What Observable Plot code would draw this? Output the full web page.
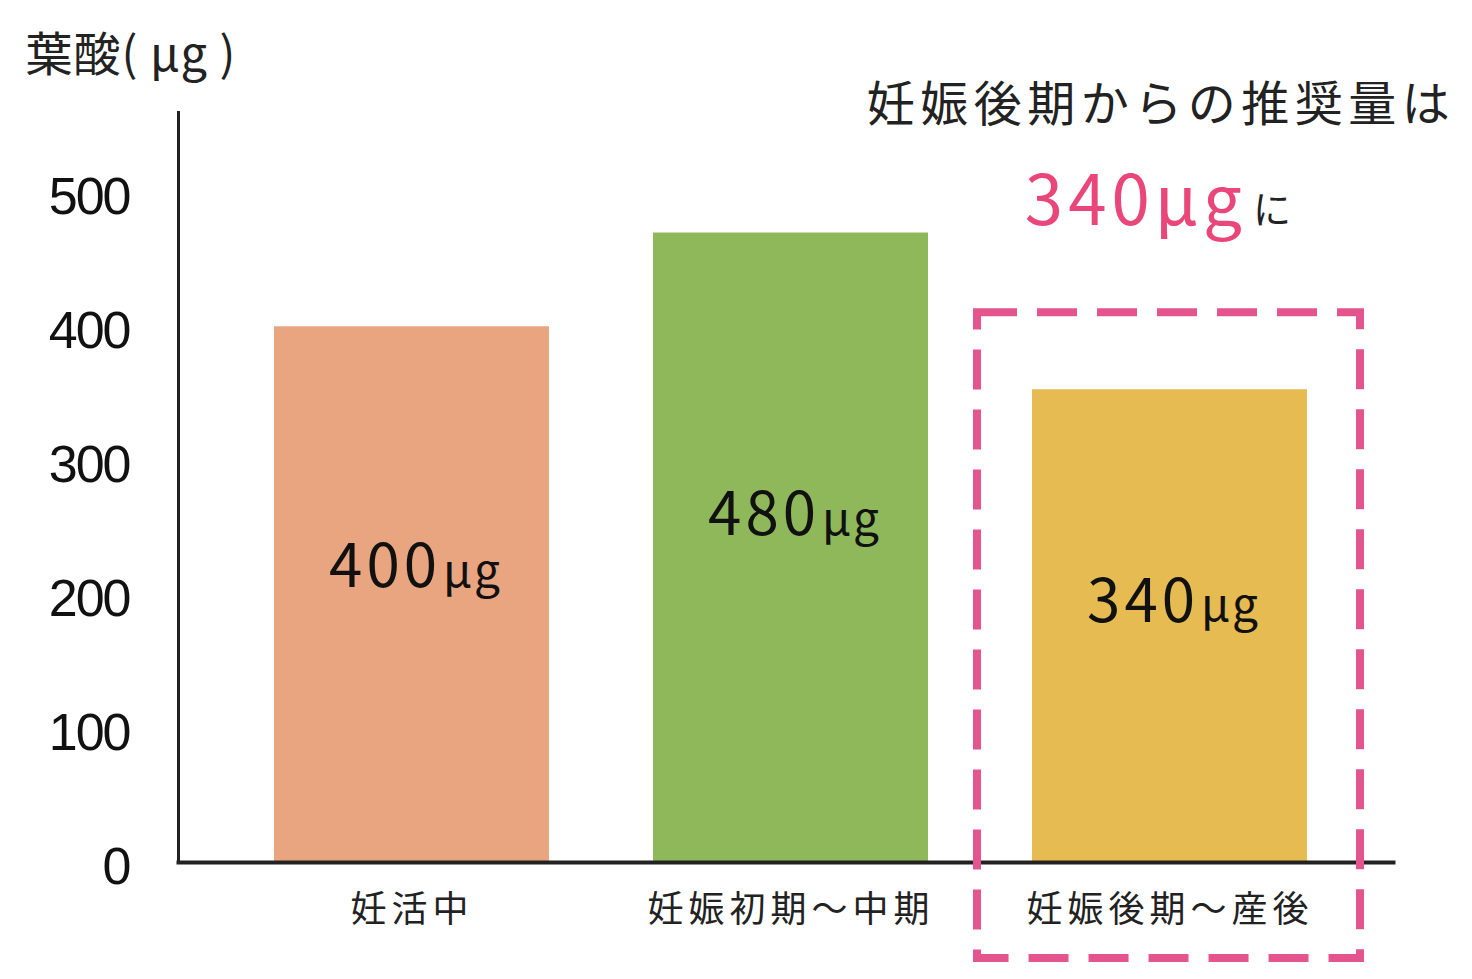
<!DOCTYPE html>
<html lang="ja">
<head>
<meta charset="utf-8">
<script src="https://cdn.jsdelivr.net/npm/d3@7"></script>
<script src="https://cdn.jsdelivr.net/npm/@observablehq/plot@0.6"></script>
<style>
  html, body { margin: 0; padding: 0; background: #ffffff; }
  #chart svg { display: block; }
  g[aria-label="x-axis tick label"] text { letter-spacing: 5px; }
  g[aria-label="y-axis tick label"] text { letter-spacing: -2px; }
  text[aria-label="note line"] { letter-spacing: 5.5px; }
  text[aria-label="note value"] { letter-spacing: 5px; }
  text[aria-label="bar value"] { letter-spacing: 4px; }
  text[aria-label="bar unit"] { letter-spacing: 2px; }
  text[aria-label="y title"] { letter-spacing: 1px; }
</style>
</head>
<body>
<div id="chart"></div>
<script>
// ---- data ----
const categories = ["妊活中", "妊娠初期～中期", "妊娠後期～産後"];
const barHeights = [400, 470, 353];          // bar heights as drawn in the picture
const valueLabels = ["400", "480", "340"];   // printed values
const unitLabel = "μg";
const barColors = ["#E8A580", "#8FB85B", "#E5BB52"];
const yTicks = [0, 100, 200, 300, 400, 500];
const yTitle = "葉酸( μg )";
const noteLine = "妊娠後期からの推奨量は";
const noteValue = "340μg";
const noteSuffix = "に";
const highlightCategory = "妊娠後期～産後";

const bars = categories.map((c, i) => ({category: c, value: barHeights[i], label: valueLabels[i]}));

const jp = "'Noto Sans CJK JP', 'Noto Sans', sans-serif";
const pink = "#E5558D";
const tag = s => () => s;

const chart = Plot.plot({
  width: 1472,
  height: 979,
  marginLeft: 178,
  marginRight: 79,
  marginTop: 112,
  marginBottom: 117,
  style: {fontFamily: jp, color: "#111", background: "#ffffff"},
  x: {domain: categories, paddingInner: 0.2744, paddingOuter: 0.24, align: 0.53, label: null},
  y: {domain: [0, 560], label: null},
  color: {domain: categories, range: barColors},
  marks: [
    Plot.barY(bars, {x: "category", y: "value", fill: "category"}),
    Plot.frame({anchor: "left", stroke: "#222", strokeWidth: 3}),
    Plot.frame({anchor: "bottom", stroke: "#222", strokeWidth: 4}),
    Plot.barY([highlightCategory], {
      x: d => d, y1: -71.6, y2: 410.4,
      fill: "none", stroke: pink, strokeWidth: 8, strokeDasharray: "40,20",
      insetLeft: -55, insetRight: -53
    }),
    Plot.axisY(yTicks, {tickSize: 0, tickPadding: 49, fontSize: 52, dy: 5, fill: "#111",
      fontFamily: "'Liberation Sans', Arial, sans-serif"}),
    Plot.axisX({tickSize: 0, tickPadding: 34, fontSize: 36, fill: "#222"}),
    // value labels inside bars
    Plot.text(bars, {
      x: "category", y: d => d.value * 0.55, text: "label",
      textAnchor: "end", dx: 29, fontSize: 60, fill: "#111", lineAnchor: "middle",
      ariaLabel: tag("bar value")
    }),
    Plot.text(bars, {
      x: "category", y: d => d.value * 0.55, text: () => unitLabel,
      textAnchor: "start", dx: 31, dy: 4, fontSize: 46, fill: "#111", lineAnchor: "middle",
      ariaLabel: tag("bar unit")
    }),
    // y title
    Plot.text([yTitle], {
      frameAnchor: "top-left", textAnchor: "start", lineAnchor: "middle",
      dx: -153, dy: -57, fontSize: 47, fill: "#222", ariaLabel: tag("y title")
    }),
    // annotation
    Plot.text([noteLine], {
      x: () => highlightCategory, frameAnchor: "top", lineAnchor: "middle",
      dx: -9, dy: -7, fontSize: 48, fill: "#222", ariaLabel: tag("note line")
    }),
    Plot.text([noteValue], {
      x: () => highlightCategory, frameAnchor: "top", lineAnchor: "middle", textAnchor: "end",
      dx: 77, dy: 90, fontSize: 69, fill: "#E9477A", ariaLabel: tag("note value")
    }),
    Plot.text([noteSuffix], {
      x: () => highlightCategory, frameAnchor: "top", lineAnchor: "middle", textAnchor: "start",
      dx: 83, dy: 98, fontSize: 38, fill: "#222", ariaLabel: tag("note suffix")
    })
  ]
});
document.getElementById("chart").append(chart);
</script>
</body>
</html>
